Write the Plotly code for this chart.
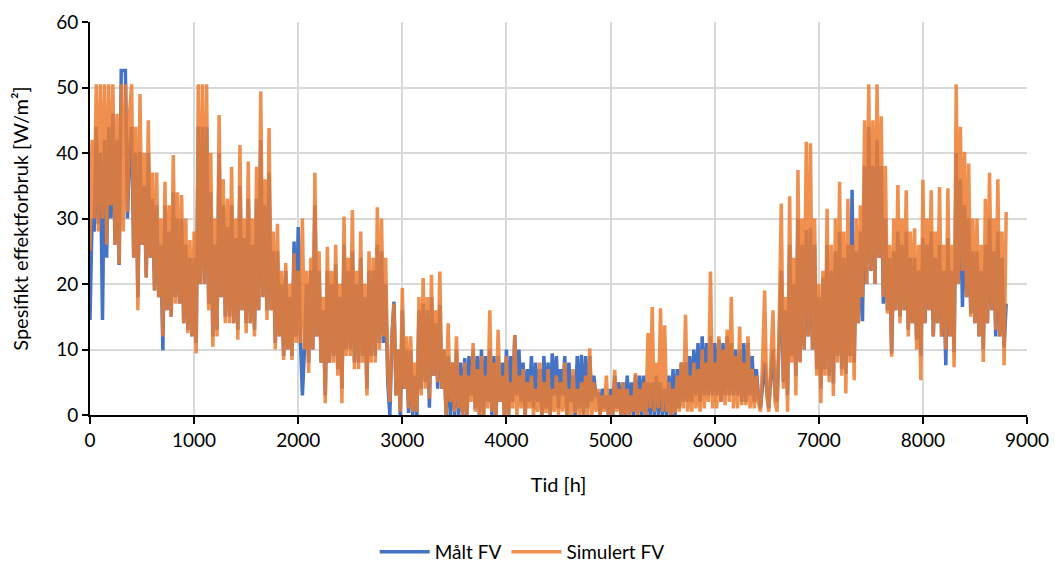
import plotly.graph_objects as go

# Time axis: one sample every 20 hours through the year
step_h = 20
n_points = 441
hours = [i * step_h for i in range(n_points)]

# Measured specific power demand (W/m²), one row per 400 h
maalt_fv = [
    14.5, 30, 28, 44, 29.2, 40, 14.5, 42, 24, 44, 30, 46, 26, 42, 22.9, 52.6, 52.6, 52.6, 30, 40,
    44, 24, 40, 18, 40.2, 26, 35, 21, 40, 24, 33, 19, 32, 18, 26, 9.9, 32, 16, 28, 15,
    34, 18, 30, 17, 30, 14, 26, 13, 24, 12, 24, 11, 44, 20, 44, 20, 44, 17, 34, 12,
    26, 13, 40, 18, 32, 15, 28.7, 15, 32, 14, 27, 13, 35, 16, 27, 14, 33, 14, 26, 13,
    33, 16, 42, 18, 32, 16, 37, 16, 25, 11, 25, 12, 20, 9, 22, 10, 18, 9, 26.5, 12,
    28.7, 12, 3, 10, 20, 8, 22, 10, 32, 12, 22, 8, 16, 3, 22, 8, 20, 9, 23, 7,
    18, 4, 26, 10, 22, 10, 25, 8, 20, 8, 24, 9, 18, 4, 22, 9, 22, 9, 26, 11,
    25, 11, 20, 5, 0, 12, 17.3, 3, 10, 0, 16, 4, 10, 0.3, 9.9, 0, 6, 0, 16, 4,
    17, 5, 16, 1.1, 18, 6, 14, 4, 16.8, 4, 10, 0, 9, 0, 8, 0, 10, 0, 8, 0,
    8.7, 0, 9, 3, 10, 1, 9, 0, 10, 0, 9, 2, 10, 0, 9, 0, 9, 2, 8, 0,
    10, 0, 9, 2, 12.2, 3, 10, 2, 8, 0, 7, 2, 9, 1, 8, 2, 7, 0, 9, 1,
    8, 0, 9.4, 3, 9, 1, 7, 3, 9, 0, 8, 2, 6, 0, 9, 1, 9.2, 0, 9, 1,
    9, 2, 6, 2.7, 3.5, 0, 4, 1, 3, 0, 4, 0, 6, 1, 5, 0, 5, 0, 6, 0,
    5, 0, 6.1, 0, 6, 0, 6, 0, 5, 0, 5, 0, 6, 0, 5, 0, 4, 0, 6, 0,
    7, 0, 7, 1, 8, 2, 8, 2, 9, 2, 10, 3, 11, 2, 12, 3, 11, 3, 12, 3,
    11, 3, 11.5, 2, 11, 3, 12, 3, 11, 3, 10, 3, 10, 2, 11, 2, 11, 3, 9, 2,
    7, 3, 1, 5, 8, 4, 1, 6, 10, 3, 2, 12, 22, 5, 16, 3, 26, 9, 20, 6,
    30, 8.2, 26, 10, 28.2, 12, 28.5, 10, 26, 7, 18, 4, 21, 7, 26, 6, 22, 4.8, 25, 9,
    28, 7, 24, 6.3, 26, 9, 34.4, 8, 25, 14, 28, 14.3, 38, 20, 44, 22, 38, 20, 42, 24,
    38, 17, 30, 16, 24, 9.4, 25, 16, 28, 15, 26, 16, 28, 13, 24, 14, 24, 11.5, 22, 9,
    27, 14, 26, 16, 28, 12, 24, 14, 26, 12, 22, 7.6, 27, 12, 22, 9.6, 40, 20, 36, 16.5,
    32, 18, 30, 15.5, 25, 14, 25, 12, 22, 10, 26, 14, 30, 16, 25, 12, 28, 12, 24, 10.3,
    17,
]

# Simulated specific power demand (W/m²), one row per 400 h
simulert_fv = [
    25, 42, 30, 50.5, 28, 50.5, 30, 50.5, 26, 50.5, 32, 50.5, 26, 46, 23, 50.5, 28, 50.5, 31, 46,
    50.5, 24, 44, 16, 49, 26, 40, 21, 45, 24, 37, 19, 37, 18, 30, 12, 35.6, 16, 32, 15,
    39.7, 17, 34, 17, 33.6, 14, 30, 12.5, 26.7, 12, 28, 9.4, 50.5, 20, 50.5, 20, 50.5, 16, 40, 10.4,
    30, 12, 45.8, 18, 36, 14, 33, 14, 37.9, 14, 30, 11.5, 41.2, 16, 30, 12.5, 38.7, 14, 30, 12,
    37.9, 16, 49.4, 18, 36, 14.5, 43.8, 16, 28, 10, 29.2, 12, 22, 8.4, 23.2, 10, 20, 8.4, 24.7, 11,
    22, 11, 30, 10, 22, 6.4, 24, 10, 37, 12, 25, 8, 18, 1.8, 25.7, 8, 22, 8, 26, 6,
    20, 1.8, 30.3, 9, 24, 9, 31.3, 7, 22, 7, 28, 8, 20, 3, 25, 8, 24, 8, 31.7, 10,
    30, 12, 24, 6, 2, 12, 17, 3, 10, 0.5, 19.4, 4, 12, 1, 12, 0.5, 8, 0.5, 18, 3,
    20.9, 4, 18, 2.5, 21.4, 6, 16, 5, 21.9, 4, 10, 0, 14, 2, 8, 0.5, 12, 1, 6, 0,
    8, 0, 6, 2, 11, 0.5, 7, 0, 9, 0, 6, 1, 16, 0.5, 8, 0, 13, 2, 6, 0,
    9, 0, 5, 1, 12.2, 0, 6, 1, 7, 0, 5, 1, 6, 0, 4, 0.5, 8, 0, 5, 0.3,
    7, 0, 4, 0.5, 6, 0, 5, 0.5, 8, 0, 4, 0, 7, 0.3, 4, 0, 5, 0, 6, 0,
    10.2, 0, 5, 0.5, 4, 0, 3, 0.5, 6, 0, 3, 0, 6.9, 0.5, 4, 0, 5, 0, 4, 0,
    3, 0.5, 6.4, 0, 4, 0.5, 5, 0, 12.5, 1, 16.5, 0.5, 8, 1, 16.3, 0.5, 13.7, 0.5, 5, 0,
    4, 0.3, 6, 0.5, 8, 1, 15.3, 0.5, 6, 0.5, 8, 1, 7, 0.5, 10, 1, 8, 2, 21.9, 1,
    8, 1, 12, 2, 10, 1.5, 13, 2, 18, 1, 9, 1, 13.5, 1.5, 8, 1.5, 12, 1, 7, 1,
    6, 2, 0.5, 8, 19, 3, 0.5, 10, 16, 2, 0.5, 14, 32.3, 4, 18, 0.5, 33.4, 8, 24, 3,
    37.4, 8, 30, 10, 41.7, 12, 41.5, 10, 30, 6, 20, 1.8, 22, 6, 31.5, 5, 26, 2.9, 30, 8,
    35.6, 6, 28, 3.3, 33, 8, 26, 5.3, 30, 14, 32, 18, 45, 20, 50.5, 22, 45, 20, 50.5, 24,
    45.6, 18, 38, 15.5, 26, 8.9, 30, 16, 35.1, 14, 30, 16, 34.3, 12, 28, 14, 28.5, 10, 26, 5.3,
    35.9, 14, 30, 16, 34.3, 12, 28, 14, 34.8, 12, 26, 10, 34.6, 12, 26, 7.3, 50.5, 20, 44, 22,
    40.2, 18, 38.4, 15, 30, 14, 30, 12, 26, 8.1, 33, 14, 37, 16, 30, 13, 36, 12, 28, 7.6,
    31,
]

x_ticks = [0, 1000, 2000, 3000, 4000, 5000, 6000, 7000, 8000, 9000]
y_ticks = [0, 10, 20, 30, 40, 50, 60]

FONT = "Lato"
GRID = "#D9D9D9"

fig = go.Figure()
fig.add_trace(go.Scatter(
    x=hours, y=maalt_fv, mode="lines", name="Målt FV",
    line=dict(color="#4472C4", width=3.5),
))
fig.add_trace(go.Scatter(
    x=hours, y=simulert_fv, mode="lines", name="Simulert FV",
    line=dict(color="#ED7D31", width=3.5), opacity=0.85,
))

fig.update_layout(
    width=1055, height=565,
    margin=dict(l=90, r=28, t=22, b=150),
    paper_bgcolor="white", plot_bgcolor="white",
    font=dict(family=FONT, size=19, color="#000000"),
    showlegend=True,
    legend=dict(
        orientation="h", xref="container", yref="container",
        x=0.495, xanchor="center", y=0.023, yanchor="middle",
        font=dict(family=FONT, size=19), itemwidth=50,
        traceorder="normal",
    ),
)

fig.update_xaxes(
    range=[0, 9000], tickvals=x_ticks, ticktext=[str(v) for v in x_ticks],
    showgrid=True, gridcolor=GRID, gridwidth=1.5,
    showline=True, linecolor="#000000", linewidth=2,
    ticks="outside", ticklen=7, tickcolor="#000000", tickwidth=2,
    ticklabelstandoff=0, automargin=False,
    zeroline=False,
    title=dict(text="Tid [h]", font=dict(family=FONT, size=20), standoff=28),
)
fig.update_yaxes(
    range=[0, 60], tickvals=y_ticks, ticktext=[str(v) for v in y_ticks],
    showgrid=True, gridcolor=GRID, gridwidth=1.5,
    showline=True, linecolor="#000000", linewidth=2,
    ticks="outside", ticklen=6, tickcolor="#000000", tickwidth=2,
    automargin=False,
    zeroline=False,
    title=dict(text="Spesifikt effektforbruk [W/m²]",
               font=dict(family=FONT, size=20), standoff=22),
)

fig.write_html("out.html")
